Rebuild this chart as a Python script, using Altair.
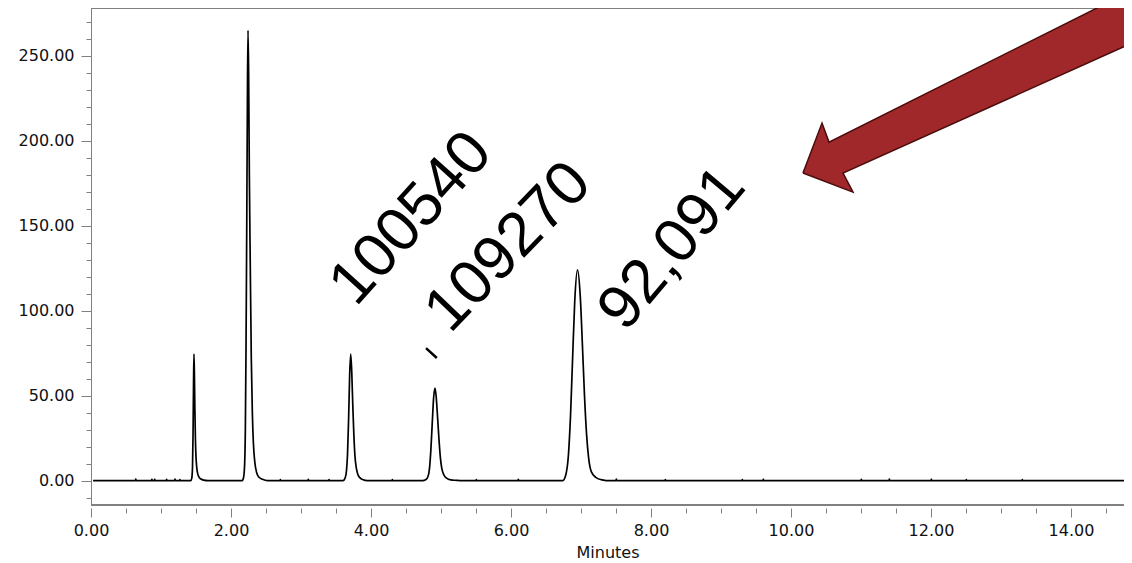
import altair as alt
import pandas as pd

# ---- axis ranges ----
X_MIN, X_MAX = 0.0, 14.757
Y_MIN, Y_MAX = -14.3, 278.1

# ---- chromatogram trace: baseline with small noise blips ----
BASE_T = [0.03, 0.635, 0.64, 0.645, 0.865, 0.87, 0.875, 0.905, 0.91, 0.915,
          1.075, 1.08, 1.085, 1.195, 1.2, 1.205, 1.265, 1.27, 1.275,
          2.7, 2.705, 2.71, 3.1, 3.105, 3.11, 3.395, 3.4, 3.405,
          4.3, 4.305, 4.31, 5.5, 5.505, 5.51, 6.1, 6.105, 6.11,
          7.5, 7.505, 7.51, 8.2, 8.205, 8.21, 9.3, 9.305, 9.31,
          9.6, 9.605, 9.61, 11.0, 11.005, 11.01, 11.4, 11.405, 11.41,
          12.0, 12.005, 12.01, 12.5, 12.505, 12.51, 13.3, 13.305, 13.31, 14.87]
BASE_S = [0, 0, 0.9, 0, 0, 0.8, 0, 0, 1.0, 0,
          0, 0.8, 0, 0, 0.9, 0, 0, 0.7, 0,
          0, 0.6, 0, 0, 0.8, 0, 0, 0.6, 0,
          0, 0.7, 0, 0, 0.6, 0, 0, 0.8, 0,
          0, 0.9, 0, 0, 0.7, 0, 0, 0.6, 0,
          0, 1.0, 0, 0, 0.8, 0, 0, 0.9, 0,
          0, 1.0, 0, 0, 0.7, 0, 0, 0.6, 0, 0]

# ---- peaks ----
P1_T = [1.425, 1.44, 1.45, 1.458, 1.465, 1.471, 1.477, 1.484, 1.492, 1.50,
        1.51, 1.525, 1.545, 1.57, 1.61, 1.67]
P1_S = [0, 1.5, 8, 28, 58, 74.5, 63, 42, 24, 14, 8, 4, 2, 1, 0.3, 0]

P2_T = [2.16, 2.18, 2.195, 2.205, 2.215, 2.225, 2.235, 2.243, 2.252, 2.262,
        2.275, 2.29, 2.305, 2.32, 2.34, 2.365, 2.40, 2.45, 2.52]
P2_S = [0, 2, 10, 30, 80, 150, 230, 265, 240, 180,
        128, 72, 40, 22, 11, 5, 2, 0.8, 0]

P3_T = [3.60, 3.63, 3.65, 3.665, 3.68, 3.695, 3.71, 3.725, 3.74, 3.755,
        3.77, 3.79, 3.81, 3.84, 3.88, 3.95]
P3_S = [0, 1.5, 6, 16, 36, 62, 74.5, 64, 44, 27, 15, 7.5, 4, 1.8, 0.7, 0]

P4_T = [4.74, 4.78, 4.81, 4.835, 4.855, 4.875, 4.895, 4.914, 4.93, 4.95,
        4.97, 4.99, 5.01, 5.04, 5.08, 5.14, 5.22, 5.3]
P4_S = [0, 0.5, 2, 7, 18, 34, 49, 54.5, 50, 38, 25, 14, 7.5, 3.5, 1.5, 0.5, 0.2, 0]

P5_T = [6.74, 6.78, 6.82, 6.85, 6.88, 6.91, 6.95, 6.99, 7.02, 7.05,
        7.08, 7.11, 7.15, 7.21, 7.3, 7.42]
P5_S = [0, 3, 15, 38, 72, 105, 124, 108, 80, 50, 27, 13, 5, 2, 0.5, 0]

# ---- annotations ----
ANNOT_TEXT = ["100540", "109270", "92,091"]
ANNOT_X = [4.57, 5.96, 8.30]
ANNOT_Y = [154.4, 137.6, 136.7]
ANNOT_ANGLE = [312, 314, 310]

DASH_X = [4.786, 4.94]
DASH_Y = [78.0, 72.2]

ARROW_X = [10.171, 10.443, 10.543, 14.871, 14.871, 10.743, 10.886, 10.171]
ARROW_Y = [181.0, 210.4, 199.2, 288.4, 257.5, 181.0, 169.8, 181.0]

X_TICKS = [i * 0.5 for i in range(30)]
Y_TICKS = [-10 + 10 * i for i in range(29)]

# ---- build tables ----
trace_t = BASE_T + P1_T + P2_T + P3_T + P4_T + P5_T
trace_s = BASE_S + P1_S + P2_S + P3_S + P4_S + P5_S
trace = pd.DataFrame({"t": trace_t, "s": trace_s}).sort_values("t").drop_duplicates("t")

annot = pd.DataFrame({"t": ANNOT_X, "s": ANNOT_Y, "label": ANNOT_TEXT, "angle": ANNOT_ANGLE})
dash = pd.DataFrame({"t": DASH_X, "s": DASH_Y})
arrow = pd.DataFrame({"t": ARROW_X, "s": ARROW_Y, "i": list(range(len(ARROW_X)))})

LABEL_FONT = "DejaVu Sans"
GRAY = "#808080"
TEXT = "#111111"

x_axis = alt.Axis(
    values=X_TICKS, tickCount=200,
    labelExpr="datum.value % 2 === 0 ? format(datum.value, '.2f') : ''",
    tickSize={"condition": {"test": "datum.value % 2 === 0", "value": 9}, "value": 5},
    domain=False, offset=3, grid=False,
    labelFont=LABEL_FONT, labelFontSize=16, labelColor=TEXT,
    tickColor=GRAY, tickWidth=1, labelPadding=5, labelOverlap=False, labelFlush=False,
    title="Minutes", titleFont=LABEL_FONT, titleFontSize=16, titleFontWeight="normal",
    titleColor=TEXT, titlePadding=6,
)
y_axis = alt.Axis(
    values=Y_TICKS, tickCount=200,
    labelExpr="datum.value % 50 === 0 ? format(datum.value, '.2f') : ''",
    tickSize={"condition": {"test": "datum.value % 50 === 0", "value": 10}, "value": 5},
    domain=True, domainColor=GRAY, domainWidth=1, grid=False,
    labelFont=LABEL_FONT, labelFontSize=16, labelColor=TEXT,
    tickColor=GRAY, tickWidth=1, labelPadding=7, labelOverlap=False, labelFlush=False,
    title=None,
)

X = alt.X("t:Q", scale=alt.Scale(domain=[X_MIN, X_MAX], nice=False, zero=False), axis=x_axis)
Y = alt.Y("s:Q", scale=alt.Scale(domain=[Y_MIN, Y_MAX], nice=False, zero=False), axis=y_axis)

line = alt.Chart(trace).mark_line(color="black", strokeWidth=1.7, interpolate="monotone").encode(x=X, y=Y)

top_rule = alt.Chart(trace).mark_rule(color=GRAY, strokeWidth=1).encode(y=alt.datum(Y_MAX))
bottom_rule = alt.Chart(trace).mark_rule(color=GRAY, strokeWidth=1).encode(y=alt.datum(Y_MIN))

texts = alt.Chart(annot).mark_text(
    font="Liberation Sans", fontSize=62, color="black", align="center", baseline="middle"
).encode(x=X, y=Y, text="label:N", angle=alt.Angle("angle:Q", scale=None))

dash_mark = alt.Chart(dash).mark_line(color="black", strokeWidth=2.5).encode(x=X, y=Y)

arrow_mark = alt.Chart(arrow).mark_line(
    fill="#a0282a", stroke="#4a0c0c", strokeWidth=1.5, interpolate="linear"
).encode(x=X, y=Y, order=alt.Order("i:Q"))

chart = alt.layer(line, top_rule, bottom_rule, dash_mark, texts, arrow_mark).properties(
    width=1033, height=497,
    autosize=alt.AutoSizeParams(type="none"),
    padding={"left": 83, "top": 0, "right": 0, "bottom": 55},
    background="white",
).configure_view(stroke=None)

chart.save("out.html", embed_options={"renderer": "svg", "actions": False})
